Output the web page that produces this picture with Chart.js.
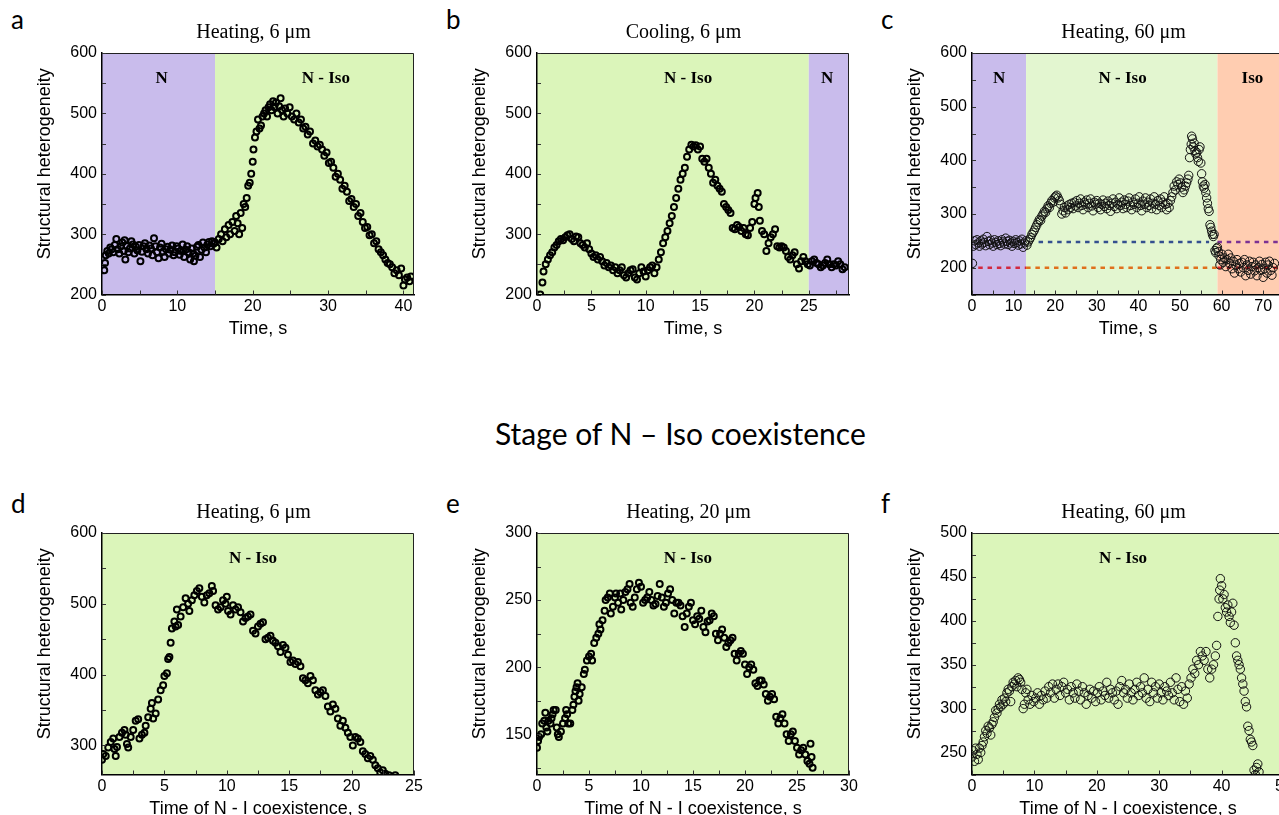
<!DOCTYPE html>
<html>
<head>
<meta charset="utf-8">
<script src="https://cdn.jsdelivr.net/npm/chart.js@4.4.1/dist/chart.umd.min.js"></script>
<style>
  html, body { margin: 0; padding: 0; width: 1279px; height: 815px; overflow: hidden; background: #fff; }
  canvas { position: absolute; }
  .letter { position: absolute; font-family: Lato, "Open Sans", sans-serif; font-size: 26px; line-height: 1; color: #000; }
  #stage { position: absolute; left: 495px; top: 418px; font-family: Lato, "Open Sans", sans-serif; font-size: 30px; line-height: 1; white-space: nowrap; color: #000; }
</style>
</head>
<body>
<div class="letter" style="left:11px;top:6px">a</div>
<div class="letter" style="left:446px;top:6px">b</div>
<div class="letter" style="left:881px;top:6px">c</div>
<div class="letter" style="left:11px;top:490px">d</div>
<div class="letter" style="left:446px;top:490px">e</div>
<div class="letter" style="left:881px;top:490px">f</div>
<div id="stage">Stage of N – Iso coexistence</div>

<canvas id="chartA" width="424" height="347" style="left:12px;top:0px"></canvas>
<canvas id="chartB" width="424" height="347" style="left:447px;top:0px"></canvas>
<canvas id="chartC" width="424" height="347" style="left:882px;top:0px"></canvas>
<canvas id="chartD" width="424" height="347" style="left:12px;top:480px"></canvas>
<canvas id="chartE" width="424" height="347" style="left:447px;top:480px"></canvas>
<canvas id="chartF" width="424" height="347" style="left:882px;top:480px"></canvas>

<script>
// 1. Data (time in s, structural heterogeneity)

// --- a: heating, 6 um ---
const aTime = [
  0.3,0.4,0.5,0.7,0.9,1.1,1.3,1.5,1.7,1.9,
  2.1,2.3,2.5,2.7,2.9,3.0,3.1,3.3,3.5,3.7,
  3.9,4.1,4.3,4.5,4.7,4.9,5.1,5.3,5.5,5.7,
  5.9,6.1,6.3,6.5,6.7,6.9,7.1,7.3,7.5,7.7,
  7.9,8.1,8.3,8.5,8.7,8.9,9.1,9.3,9.5,9.7,
  9.9,10.1,10.3,10.5,10.7,10.9,11.1,11.3,11.5,11.7,
  11.9,12.1,12.2,12.4,12.6,12.8,13.0,13.2,13.4,13.6,
  13.8,14.0,14.2,14.4,14.6,14.8,15.0,15.2,15.5,15.8,
  16.0,16.3,16.5,16.8,17.0,17.3,17.6,17.8,18.0,18.2,
  18.4,18.6,18.8,19.0,19.2,19.4,19.6,19.8,20.0,20.1,
  20.3,20.5,20.7,20.9,21.1,21.3,21.5,21.7,21.9,22.1,
  22.3,22.5,22.7,22.9,23.1,23.3,23.5,23.7,23.9,24.1,
  24.3,24.6,24.9,25.2,25.5,25.8,26.1,26.4,26.7,27.0,
  27.3,27.6,28.0,28.3,28.6,28.9,29.2,29.5,29.8,30.1,
  30.4,30.7,31.0,31.3,31.6,31.9,32.2,32.5,32.8,33.1,
  33.4,33.7,34.0,34.3,34.6,34.9,35.2,35.5,35.8,36.1,
  36.4,36.7,37.0,37.3,37.6,37.9,38.2,38.5,38.8,39.1,
  39.4,39.7,40.0,40.2,40.5,40.8,41.0
];
const aHet = [
  240,252,265,272,268,278,275,270,282,292,
  275,268,280,286,272,290,258,280,270,276,
  288,283,268,279,273,282,255,271,280,285,
  275,268,281,276,265,293,280,270,260,278,
  284,271,262,275,279,268,274,281,265,270,
  280,276,266,272,283,262,274,280,270,258,
  276,268,255,264,279,282,262,274,286,278,
  270,283,287,280,288,284,286,278,292,300,
  288,308,295,315,300,320,305,330,318,300,
  335,310,350,345,360,380,385,400,420,440,
  460,470,490,475,480,495,500,505,495,510,
  515,505,520,510,518,500,512,525,505,495,
  508,500,510,495,490,500,485,490,475,478,
  465,470,450,455,445,448,440,430,435,418,
  420,410,395,400,390,375,380,370,355,358,
  345,350,330,335,320,310,312,298,300,285,
  288,275,270,265,258,252,250,245,235,240,
  232,243,215,225,228,222,230
];
const aXTicks = [0, 10, 20, 30, 40];
const aYTicks = [200, 300, 400, 500, 600];
const aPhaseEdges = [0, 15, 41.4];
const aPhaseNames = ['N', 'N - Iso'];

// --- b: cooling, 6 um ---
const bTime = [
  0.3,0.5,0.6,0.8,1.0,1.2,1.4,1.6,1.8,2.0,
  2.2,2.4,2.6,2.8,3.0,3.2,3.4,3.6,3.8,4.0,
  4.2,4.4,4.6,4.8,5.0,5.2,5.4,5.6,5.8,6.0,
  6.2,6.4,6.6,6.8,7.0,7.2,7.4,7.6,7.8,8.0,
  8.2,8.4,8.6,8.8,9.0,9.2,9.4,9.6,9.8,10.0,
  10.2,10.4,10.6,10.8,11.0,11.2,11.4,11.6,11.8,12.0,
  12.2,12.4,12.6,12.8,13.0,13.2,13.4,13.6,13.8,14.0,
  14.2,14.4,14.6,14.8,15.0,15.2,15.4,15.6,15.8,16.0,
  16.2,16.4,16.6,16.8,17.0,17.2,17.4,17.6,17.8,18.0,
  18.2,18.4,18.6,18.8,19.0,19.2,19.4,19.6,19.8,20.0,
  20.1,20.3,20.4,20.5,20.7,20.9,21.1,21.3,21.5,21.7,
  21.9,22.1,22.3,22.5,22.7,22.9,23.1,23.3,23.5,23.7,
  23.9,24.1,24.3,24.5,24.7,24.9,25.1,25.3,25.5,25.7,
  25.9,26.1,26.3,26.5,26.7,26.9,27.1,27.3,27.5,27.7,
  27.9,28.1,28.3
];
const bHet = [
  200,220,238,250,258,265,270,278,282,288,
  292,290,295,298,300,292,288,296,295,285,
  282,278,285,275,268,262,265,258,262,255,
  248,252,245,248,240,245,235,240,245,232,
  228,235,240,242,228,225,235,245,238,230,
  240,245,248,235,245,258,270,285,295,305,
  318,330,345,360,375,390,400,410,428,440,
  448,445,447,440,445,425,420,425,410,400,
  385,390,380,375,370,350,345,340,335,310,
  308,315,312,305,310,300,298,310,320,350,
  360,368,345,322,305,300,272,285,295,300,
  308,280,278,280,278,272,262,258,265,270,
  250,243,255,262,255,250,248,255,258,252,
  250,245,248,252,258,250,245,250,248,255,
  250,242,245
];
const bXTicks = [0, 5, 10, 15, 20, 25];
const bYTicks = [200, 300, 400, 500, 600];
const bPhaseEdges = [0, 25, 28.7];
const bPhaseNames = ['N - Iso', 'N'];

// --- c: heating, 60 um ---
const cTime = [
  0.1,0.3,0.6,0.9,1.2,1.5,1.8,2.1,2.4,2.7,
  3.0,3.3,3.6,3.9,4.2,4.5,4.8,5.1,5.4,5.7,
  6.0,6.3,6.6,6.9,7.2,7.5,7.8,8.1,8.4,8.7,
  9.0,9.3,9.6,9.9,10.2,10.5,10.8,11.1,11.4,11.7,
  12.0,12.3,12.6,12.9,13.2,13.5,13.8,14.1,14.4,14.7,
  15.0,15.3,15.6,15.9,16.2,16.5,16.8,17.1,17.4,17.7,
  18.0,18.3,18.6,18.9,19.2,19.5,19.8,20.1,20.4,20.7,
  21.0,21.3,21.6,21.9,22.2,22.5,22.8,23.1,23.4,23.7,
  24.0,24.3,24.6,24.9,25.2,25.5,25.8,26.1,26.4,26.7,
  27.0,27.3,27.6,27.9,28.2,28.5,28.8,29.1,29.4,29.7,
  30.0,30.3,30.6,30.9,31.2,31.5,31.8,32.1,32.4,32.7,
  33.0,33.3,33.6,33.9,34.2,34.5,34.8,35.1,35.4,35.7,
  36.0,36.3,36.6,36.9,37.2,37.5,37.8,38.1,38.4,38.7,
  39.0,39.3,39.6,39.9,40.2,40.5,40.8,41.1,41.4,41.7,
  42.0,42.3,42.6,42.9,43.2,43.5,43.8,44.1,44.4,44.7,
  45.0,45.3,45.6,45.9,46.2,46.5,46.8,47.1,47.4,47.7,
  48.0,48.3,48.6,48.9,49.2,49.5,49.8,50.1,50.4,50.7,
  51.0,51.3,51.6,51.9,52.1,52.3,52.5,52.7,52.8,53.0,
  53.2,53.4,53.6,53.8,54.0,54.2,54.4,54.6,54.8,55.0,
  55.2,55.4,55.6,55.8,56.0,56.2,56.4,56.6,56.8,57.0,
  57.2,57.4,57.6,57.8,58.0,58.2,58.4,58.6,58.8,59.0,
  59.2,59.4,59.6,59.8,60.1,60.4,60.7,61.0,61.3,61.6,
  61.9,62.2,62.5,62.8,63.1,63.4,63.7,64.0,64.3,64.6,
  64.9,65.2,65.5,65.8,66.1,66.4,66.7,67.0,67.3,67.6,
  67.9,68.2,68.5,68.8,69.1,69.4,69.7,70.0,70.3,70.6,
  70.9,71.2,71.5,71.8,72.1,72.4,72.7
];
const cHet = [
  208,240,250,243,252,246,240,250,244,253,
  247,241,258,249,243,251,246,240,252,247,
  243,250,245,241,252,248,244,255,249,243,
  251,246,240,249,245,252,247,242,250,244,
  253,238,246,250,242,248,252,256,262,266,
  270,275,280,285,290,288,296,300,305,303,
  310,315,312,320,325,322,330,333,335,330,
  325,318,300,306,312,302,315,308,318,312,
  320,310,322,315,325,312,320,328,316,308,
  322,318,326,312,320,328,315,306,322,318,
  325,312,320,308,318,326,314,320,310,324,
  316,305,320,328,314,322,310,318,330,316,
  322,310,326,318,312,324,330,316,308,322,
  318,328,312,320,332,316,306,324,318,330,
  312,322,316,328,310,320,332,318,308,325,
  316,328,312,322,332,318,308,320,312,325,
  332,340,352,345,360,355,365,358,350,340,
  345,352,358,365,372,405,420,430,445,440,
  425,432,418,412,415,405,398,420,425,395,
  375,360,352,348,355,340,330,320,310,305,
  280,275,268,262,258,262,232,228,236,238,
  230,222,205,215,225,210,218,202,215,225,
  208,218,198,212,190,205,215,198,208,192,
  210,200,215,185,205,195,212,188,202,210,
  194,205,185,200,212,195,206,182,198,210,
  190,205,212,195,186,200,208
];
const cXTicks = [0, 10, 20, 30, 40, 50, 60, 70];
const cYTicks = [200, 300, 400, 500, 600];
const cPhaseEdges = [0, 13, 59, 75];
const cPhaseNames = ['N', 'N - Iso', 'Iso'];
// reference levels (dashed): Iso level and N level, drawn in segments
const cRefLevel = [200, 200, 200, 248, 248];
const cRefFrom = [1.5, 13, 59, 16, 59];
const cRefTo = [13, 59, 75, 57, 75];

// --- d: heating, 6 um, coexistence time ---
const dTime = [
  0.0,0.1,0.3,0.5,0.7,0.9,1.0,1.1,1.2,1.4,
  1.6,1.8,1.9,2.0,2.1,2.3,2.5,2.7,2.9,3.0,
  3.2,3.4,3.5,3.7,3.9,4.0,4.1,4.3,4.5,4.7,
  4.9,5.0,5.2,5.3,5.4,5.5,5.6,5.8,5.9,6.0,
  6.1,6.3,6.5,6.7,6.9,7.0,7.2,7.4,7.6,7.8,
  8.0,8.2,8.4,8.6,8.8,8.9,9.1,9.3,9.5,9.7,
  9.9,10.0,10.1,10.3,10.5,10.7,10.9,11.1,11.3,11.5,
  11.7,11.9,12.1,12.3,12.5,12.7,12.9,13.1,13.3,13.5,
  13.7,13.9,14.1,14.3,14.5,14.7,14.9,15.1,15.3,15.5,
  15.7,15.9,16.1,16.3,16.5,16.7,16.9,17.1,17.3,17.5,
  17.7,17.9,18.1,18.3,18.5,18.7,18.9,19.1,19.3,19.5,
  19.7,19.9,20.1,20.3,20.5,20.7,20.9,21.1,21.3,21.5,
  21.7,21.9,22.1,22.3,22.5,22.7,23.0,23.5
];
const dHet = [
  280,288,285,297,305,310,295,285,298,312,
  318,322,315,302,297,312,322,335,337,310,
  315,318,328,340,352,360,338,345,365,378,
  385,398,402,422,425,445,465,475,468,492,
  470,482,495,508,500,490,505,512,518,522,
  510,502,512,515,525,518,498,492,495,505,
  500,510,490,485,498,492,495,488,475,480,
  482,485,462,458,468,472,474,450,452,455,
  448,445,440,432,442,438,428,418,420,415,
  418,412,395,392,388,398,392,378,372,375,
  378,370,355,348,358,352,338,328,335,325,
  318,312,300,312,310,305,292,288,282,285,
  280,272,268,262,265,260,258,258
];
const dXTicks = [0, 5, 10, 15, 20, 25];
const dYTicks = [300, 400, 500, 600];

// --- e: heating, 20 um, coexistence time ---
const eTime = [
  0.0,0.1,0.2,0.4,0.5,0.7,0.8,0.9,1.0,1.1,
  1.3,1.4,1.5,1.6,1.8,1.9,2.0,2.1,2.3,2.5,
  2.7,2.8,2.9,3.0,3.2,3.4,3.5,3.6,3.7,3.8,
  3.9,4.0,4.1,4.3,4.5,4.6,4.8,5.0,5.2,5.3,
  5.5,5.7,5.9,6.0,6.1,6.3,6.5,6.6,6.8,7.0,
  7.1,7.3,7.5,7.6,7.8,8.0,8.1,8.3,8.5,8.7,
  8.9,9.0,9.2,9.4,9.6,9.8,10.0,10.2,10.4,10.6,
  10.8,11.0,11.2,11.4,11.6,11.8,12.0,12.2,12.4,12.6,
  12.8,13.0,13.2,13.4,13.6,13.8,14.0,14.2,14.4,14.6,
  14.8,15.0,15.2,15.4,15.6,15.8,16.0,16.2,16.4,16.6,
  16.8,17.0,17.2,17.4,17.6,17.8,18.0,18.2,18.4,18.6,
  18.8,19.0,19.2,19.4,19.6,19.8,20.0,20.2,20.4,20.6,
  20.8,21.0,21.2,21.4,21.6,21.8,22.0,22.2,22.4,22.6,
  22.8,23.0,23.2,23.4,23.6,23.8,24.0,24.2,24.4,24.6,
  24.8,25.0,25.2,25.4,25.6,25.8,26.0,26.2,26.3,26.4,
  26.5
];
const eHet = [
  140,145,148,150,158,160,166,155,152,160,
  158,162,165,168,168,155,150,148,152,158,
  162,168,165,158,158,168,172,178,182,185,
  188,175,180,185,195,198,205,208,210,205,
  218,222,225,232,228,235,242,250,252,255,
  240,245,252,255,248,255,243,250,256,258,
  262,248,245,252,258,263,260,248,250,252,
  256,250,246,247,253,262,252,245,248,255,
  258,250,240,248,248,246,238,230,240,245,
  248,235,232,238,236,242,230,226,234,235,
  240,238,225,220,225,228,222,215,218,220,
  222,210,205,210,212,210,202,195,200,202,
  198,188,186,190,190,187,180,175,178,180,
  176,163,158,162,165,158,150,145,150,152,
  145,140,135,138,140,135,130,128,143,133,
  125
];
const eXTicks = [0, 5, 10, 15, 20, 25, 30];
const eYTicks = [150, 200, 250, 300];

// --- f: heating, 60 um, coexistence time ---
const fTime = [
  0.0,0.2,0.4,0.6,0.8,1.0,1.2,1.4,1.6,1.8,
  2.0,2.2,2.4,2.6,2.8,3.0,3.2,3.4,3.6,3.8,
  4.0,4.2,4.4,4.6,4.8,5.0,5.2,5.4,5.6,5.8,
  6.0,6.2,6.4,6.6,6.8,7.0,7.2,7.4,7.6,7.8,
  8.0,8.2,8.4,8.6,8.8,9.0,9.3,9.6,9.9,10.2,
  10.5,10.8,11.1,11.4,11.7,12.0,12.3,12.6,12.9,13.2,
  13.5,13.8,14.1,14.4,14.7,15.0,15.3,15.6,15.9,16.2,
  16.5,16.8,17.1,17.4,17.7,18.0,18.3,18.6,18.9,19.2,
  19.5,19.8,20.1,20.4,20.7,21.0,21.3,21.6,21.9,22.2,
  22.5,22.8,23.1,23.4,23.7,24.0,24.3,24.6,24.9,25.2,
  25.5,25.8,26.1,26.4,26.7,27.0,27.3,27.6,27.9,28.2,
  28.5,28.8,29.1,29.4,29.7,30.0,30.3,30.6,30.9,31.2,
  31.5,31.8,32.1,32.4,32.7,33.0,33.3,33.6,33.9,34.2,
  34.5,34.8,35.1,35.4,35.7,36.0,36.3,36.6,36.9,37.2,
  37.5,37.8,38.1,38.4,38.7,39.0,39.2,39.4,39.6,39.7,
  39.8,40.0,40.2,40.4,40.6,40.8,41.0,41.2,41.4,41.6,
  41.8,42.0,42.2,42.4,42.6,42.8,43.0,43.2,43.4,43.6,
  43.8,44.0,44.2,44.4,44.6,44.8,45.0,45.2,45.4,45.6,
  45.8,46.0
];
const fHet = [
  245,252,240,255,248,242,255,250,258,262,
  268,275,272,280,278,270,282,285,290,298,
  295,300,305,302,310,305,312,308,318,322,
  320,308,325,330,328,332,325,335,333,330,
  322,300,305,318,322,310,305,315,308,312,
  318,305,315,310,320,312,325,318,328,312,
  322,328,315,325,330,318,322,310,325,318,
  312,328,320,310,325,318,305,315,322,312,
  320,308,318,325,310,320,315,330,312,322,
  318,310,320,305,325,332,318,322,312,328,
  318,310,322,330,315,325,318,335,312,322,
  308,330,318,325,312,328,318,310,325,320,
  315,330,318,310,335,322,308,325,305,320,
  312,328,335,345,340,355,350,365,360,355,
  365,345,335,345,350,360,372,405,425,435,
  448,440,425,430,415,410,418,405,398,410,
  420,395,375,360,355,350,345,335,328,320,
  308,302,280,275,265,262,258,230,225,233,
  237,228
];
const fXTicks = [0, 10, 20, 30, 40, 50];
const fYTicks = [250, 300, 350, 400, 450, 500];

// 2. Styling
const PURPLE = '#c9bcec';
const GREEN = '#dbf5ba';
const PALE_GREEN = '#e3f6d0';
const PEACH = '#ffcdb1';
const AX_FONT = '"Liberation Sans", Arial, sans-serif';
const SERIF = '"Liberation Serif", "Times New Roman", serif';
const REF_COLORS = ['#d2283f', '#e0701c', '#e3262a', '#34508f', '#7b3193'];

// 3. Helpers
function points(xs, ys) {
  return xs.map((x, i) => ({ x, y: ys[i] }));
}

function phases(edges, names, colors, labelAt) {
  return names.map((name, i) => ({
    from: edges[i], to: edges[i + 1], label: name, color: colors[i], labelAt: labelAt[i]
  }));
}

function tickSet(scale) {
  const major = scale.ticks.map(t => t.value);
  const half = (major[1] - major[0]) / 2;
  const out = [];
  major.forEach(v => {
    out.push(v);
    if (v + half <= scale.max) out.push(v + half);
  });
  if (major[0] - half >= scale.min) out.push(major[0] - half);
  return out;
}

// 4. Plugin: phase backgrounds, inward ticks, frame and labels
const decorPlugin = {
  id: 'decor',
  beforeDraw(chart, args, o) {
    const { ctx, chartArea: a, scales: { x } } = chart;
    ctx.save();
    o.phases.forEach(p => {
      const x0 = Math.max(a.left, x.getPixelForValue(p.from));
      const x1 = Math.min(a.right, x.getPixelForValue(p.to));
      ctx.fillStyle = p.color;
      ctx.fillRect(x0, a.top, x1 - x0, a.bottom - a.top);
    });
    ctx.restore();
  },
  afterDraw(chart, args, o) {
    const { ctx, chartArea: a, scales: { x, y } } = chart;
    ctx.save();

    // top + right frame
    ctx.strokeStyle = '#222';
    ctx.lineWidth = 1;
    ctx.beginPath();
    ctx.moveTo(a.left, a.top + 0.5);
    ctx.lineTo(a.right - 0.5, a.top + 0.5);
    ctx.lineTo(a.right - 0.5, a.bottom);
    ctx.stroke();

    // inward ticks (major + minor)
    ctx.strokeStyle = '#333';
    ctx.beginPath();
    tickSet(x).forEach(v => {
      const px = Math.round(x.getPixelForValue(v)) + 0.5;
      ctx.moveTo(px, a.bottom);
      ctx.lineTo(px, a.bottom - 4);
    });
    tickSet(y).forEach(v => {
      const py = Math.round(y.getPixelForValue(v)) + 0.5;
      ctx.moveTo(a.left, py);
      ctx.lineTo(a.left + 4, py);
    });
    ctx.stroke();

    ctx.fillStyle = '#000';
    ctx.textAlign = 'center';
    ctx.textBaseline = 'middle';

    // y axis title (sits a little above the plot centre)
    ctx.save();
    ctx.translate(a.left - 57, (a.top + a.bottom) / 2 - 10);
    ctx.rotate(-Math.PI / 2);
    ctx.font = '18px ' + AX_FONT;
    ctx.fillText('Structural heterogeneity', 0, 0);
    ctx.restore();

    // panel title
    ctx.font = '20px ' + SERIF;
    ctx.fillText(o.title, a.left + o.titleDx, a.top - 20);

    // phase labels
    ctx.font = 'bold 17px ' + SERIF;
    o.phases.forEach(p => {
      ctx.fillText(p.label, x.getPixelForValue(p.labelAt), a.top + 26);
    });
    ctx.restore();
  }
};

// 5. Panel builder
function makePanel(canvasId, cfg) {
  const thin = cfg.thin;
  const datasets = [{
    data: points(cfg.time, cfg.het),
    pointStyle: 'circle',
    pointRadius: thin ? 4.2 : 3.0,
    pointBorderWidth: thin ? 1.0 : 2.0,
    borderColor: thin ? '#111' : '#000',
    backgroundColor: 'rgba(0,0,0,0)',
    order: 0
  }].concat(cfg.extra || []);

  return new Chart(document.getElementById(canvasId), {
    type: 'scatter',
    data: { datasets },
    options: {
      responsive: false,
      animation: false,
      events: [],
      layout: { padding: { left: 0, top: 53, right: 22, bottom: 0 } },
      plugins: {
        legend: { display: false },
        tooltip: { enabled: false },
        decor: { title: cfg.title, titleDx: cfg.titleDx || 151.5, phases: cfg.phases }
      },
      scales: {
        x: {
          type: 'linear',
          min: 0,
          max: cfg.xMax,
          afterBuildTicks: s => { s.ticks = cfg.xTicks.map(v => ({ value: v })); },
          afterFit: s => { s.height = 52.5; },
          grid: { display: true, drawOnChartArea: false, drawTicks: false },
          border: { display: true, color: '#000', width: 1.5 },
          ticks: { color: '#000', font: { family: AX_FONT, size: 16 }, padding: 2, maxRotation: 0, autoSkip: false },
          title: { display: true, text: cfg.xTitle, color: '#000', font: { family: AX_FONT, size: 18 }, padding: { top: 0, bottom: 7 } }
        },
        y: {
          type: 'linear',
          min: cfg.yMin,
          max: cfg.yMax,
          afterBuildTicks: s => { s.ticks = cfg.yTicks.map(v => ({ value: v })); },
          afterFit: s => { s.width = 90; },
          grid: { display: true, drawOnChartArea: false, drawTicks: false },
          border: { display: true, color: '#000', width: 1.5 },
          ticks: { color: '#000', font: { family: AX_FONT, size: 16 }, padding: 5, autoSkip: false },
          title: { display: false }
        }
      }
    },
    plugins: [decorPlugin]
  });
}

// 6. Dashed reference segments for panel c
const cRefLines = cRefLevel.map((lvl, i) => ({
  type: 'line',
  data: [{ x: cRefFrom[i], y: lvl }, { x: cRefTo[i], y: lvl }],
  borderColor: REF_COLORS[i],
  borderWidth: 2.5,
  borderDash: [4.5, 4.8],
  pointRadius: 0,
  fill: false,
  order: 1
}));

// 7. Draw the six panels
makePanel('chartA', {
  time: aTime, het: aHet, xMax: 41.4, yMin: 200, yMax: 600,
  xTicks: aXTicks, yTicks: aYTicks, title: 'Heating, 6 μm', xTitle: 'Time, s',
  phases: phases(aPhaseEdges, aPhaseNames, [PURPLE, GREEN], [7.9, 29.7])
});
makePanel('chartB', {
  time: bTime, het: bHet, xMax: 28.7, yMin: 200, yMax: 600,
  xTicks: bXTicks, yTicks: bYTicks, title: 'Cooling, 6 μm', xTitle: 'Time, s', titleDx: 146.5,
  phases: phases(bPhaseEdges, bPhaseNames, [GREEN, PURPLE], [13.9, 26.7])
});
makePanel('chartC', {
  time: cTime, het: cHet, xMax: 75, yMin: 150, yMax: 600, thin: true,
  xTicks: cXTicks, yTicks: cYTicks, title: 'Heating, 60 μm', xTitle: 'Time, s',
  phases: phases(cPhaseEdges, cPhaseNames, [PURPLE, PALE_GREEN, PEACH], [6.5, 36.2, 67.4]),
  extra: cRefLines
});
makePanel('chartD', {
  time: dTime, het: dHet, xMax: 25, yMin: 259, yMax: 600,
  xTicks: dXTicks, yTicks: dYTicks, title: 'Heating, 6 μm', xTitle: 'Time of N - I coexistence, s',
  phases: phases([0, 25], ['N - Iso'], [GREEN], [12.1])
});
makePanel('chartE', {
  time: eTime, het: eHet, xMax: 30, yMin: 120, yMax: 300,
  xTicks: eXTicks, yTicks: eYTicks, title: 'Heating, 20 μm', xTitle: 'Time of N - I coexistence, s',
  phases: phases([0, 30], ['N - Iso'], [GREEN], [14.5])
});
makePanel('chartF', {
  time: fTime, het: fHet, xMax: 50, yMin: 225, yMax: 500, thin: true,
  xTicks: fXTicks, yTicks: fYTicks, title: 'Heating, 60 μm', xTitle: 'Time of N - I coexistence, s',
  phases: phases([0, 50], ['N - Iso'], [GREEN], [24.2])
});
</script>
</body>
</html>
